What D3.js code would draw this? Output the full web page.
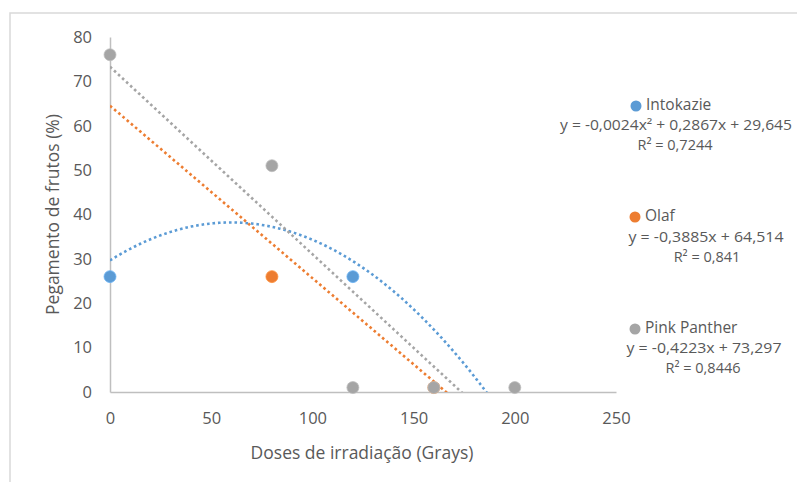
<!DOCTYPE html>
<html>
<head>
<meta charset="utf-8">
<script src="https://cdn.jsdelivr.net/npm/d3@7"></script>
<style>
  body { margin: 0; background: #fff; }
  text { font-family: "Open Sans", sans-serif; fill: #595959; }
</style>
</head>
<body>
<div id="chart"></div>
<script>
// data
const seriesNames = ['Intokazie', 'Olaf', 'Pink Panther'];
const seriesColors = ['#5B9BD5', '#ED7D31', '#A5A5A5'];
const intokaziePoints = [[0, 26], [120, 26]];
const olafPoints = [[80, 26], [160, 1]];
const pinkPantherPoints = [[0, 76], [80, 51], [120, 1], [160, 1], [200, 1]];
// trendline coefficients [a, b, c] for y = a*x^2 + b*x + c
const trendCoefs = [[-0.0024, 0.2867, 29.645], [0, -0.3885, 64.514], [0, -0.4223, 73.297]];
const equations = ['y = -0,0024x² + 0,2867x + 29,645', 'y = -0,3885x + 64,514', 'y = -0,4223x + 73,297'];
const rSquared = ['R² = 0,7244', 'R² = 0,841', 'R² = 0,8446'];
const xTicks = [0, 50, 100, 150, 200, 250];
const yTicks = [0, 10, 20, 30, 40, 50, 60, 70, 80];

const width = 797, height = 482;
const plot = { left: 110, right: 616, top: 37, bottom: 392 };

const svg = d3.select('#chart').append('svg')
  .attr('width', width)
  .attr('height', height);

// chart frame (only the top and left edges are in view)
svg.append('path')
  .attr('d', `M10,${height} V13 H${width}`)
  .attr('fill', 'none')
  .attr('stroke', '#D9D9D9')
  .attr('stroke-width', 1.5);

const x = d3.scaleLinear().domain([0, 250]).range([plot.left, plot.right]);
const y = d3.scaleLinear().domain([0, 80]).range([plot.bottom, plot.top]);

// axes
const xAxis = svg.append('g')
  .attr('transform', `translate(0,${plot.bottom})`)
  .call(d3.axisBottom(x).tickValues(xTicks).tickSize(0).tickPadding(20));
const yAxis = svg.append('g')
  .attr('transform', `translate(${plot.left},0)`)
  .call(d3.axisLeft(y).tickValues(yTicks).tickSize(0).tickPadding(18));

[xAxis, yAxis].forEach(g => {
  g.select('.domain').attr('stroke', '#BFBFBF').attr('stroke-width', 1.5);
  g.selectAll('text')
    .style('font-family', '"Open Sans", sans-serif')
    .style('font-size', '16.5px')
    .attr('fill', '#595959');
});

// axis titles
svg.append('text')
  .attr('x', 362)
  .attr('y', 459)
  .attr('text-anchor', 'middle')
  .style('font-size', '17.5px')
  .text('Doses de irradiação (Grays)');

svg.append('text')
  .attr('transform', `translate(59,${(plot.top + plot.bottom) / 2}) rotate(-90)`)
  .attr('text-anchor', 'middle')
  .style('font-size', '17.5px')
  .text('Pegamento de frutos (%)');

// trendlines, clipped to the plot area
svg.append('clipPath').attr('id', 'plot-clip')
  .append('rect')
  .attr('x', plot.left)
  .attr('y', plot.top - 10)
  .attr('width', plot.right - plot.left)
  .attr('height', plot.bottom - plot.top + 10);

const line = d3.line().x(d => x(d[0])).y(d => y(d[1]));
const trendGroup = svg.append('g').attr('clip-path', 'url(#plot-clip)');

trendCoefs.forEach((c, i) => {
  const pts = d3.range(0, 200.5, 1).map(v => [v, c[0] * v * v + c[1] * v + c[2]]);
  trendGroup.append('path')
    .datum(pts)
    .attr('d', line)
    .attr('fill', 'none')
    .attr('stroke', seriesColors[i])
    .attr('stroke-width', 2.6)
    .attr('stroke-dasharray', '2.6,2.9');
});

// markers
const allPoints = [intokaziePoints, olafPoints, pinkPantherPoints];
allPoints.forEach((pts, i) => {
  svg.append('g').selectAll('circle')
    .data(pts)
    .enter()
    .append('circle')
    .attr('cx', d => x(d[0]))
    .attr('cy', d => y(d[1]))
    .attr('r', 6)
    .attr('fill', seriesColors[i])
    .attr('stroke', d3.color(seriesColors[i]).brighter(0.4))
    .attr('stroke-width', 0.75);
});

// legend with equations
const legendPos = [
  { dotX: 636, nameY: 105, eqX: 676, eqY: 125, eqW: 232, rX: 675, rY: 145 },
  { dotX: 635, nameY: 216, eqX: 706, eqY: 237, eqW: 155, rX: 707, rY: 257 },
  { dotX: 635, nameY: 328, eqX: 704, eqY: 348, eqW: 155, rX: 703, rY: 368 }
];

seriesNames.forEach((name, i) => {
  const p = legendPos[i];
  const g = svg.append('g');
  g.append('circle')
    .attr('cx', p.dotX)
    .attr('cy', p.nameY + 1)
    .attr('r', 5.5)
    .attr('fill', seriesColors[i]);
  g.append('text')
    .attr('x', p.dotX + 10)
    .attr('y', p.nameY)
    .attr('dy', '0.35em')
    .style('font-size', '15.5px')
    .text(name);
  g.append('text')
    .attr('x', p.eqX)
    .attr('y', p.eqY)
    .attr('dy', '0.35em')
    .attr('text-anchor', 'middle')
    .attr('textLength', p.eqW)
    .attr('lengthAdjust', 'spacingAndGlyphs')
    .style('font-size', '14px')
    .text(equations[i]);
  g.append('text')
    .attr('x', p.rX)
    .attr('y', p.rY)
    .attr('dy', '0.35em')
    .attr('text-anchor', 'middle')
    .style('font-size', '14.5px')
    .text(rSquared[i]);
});
</script>
</body>
</html>
